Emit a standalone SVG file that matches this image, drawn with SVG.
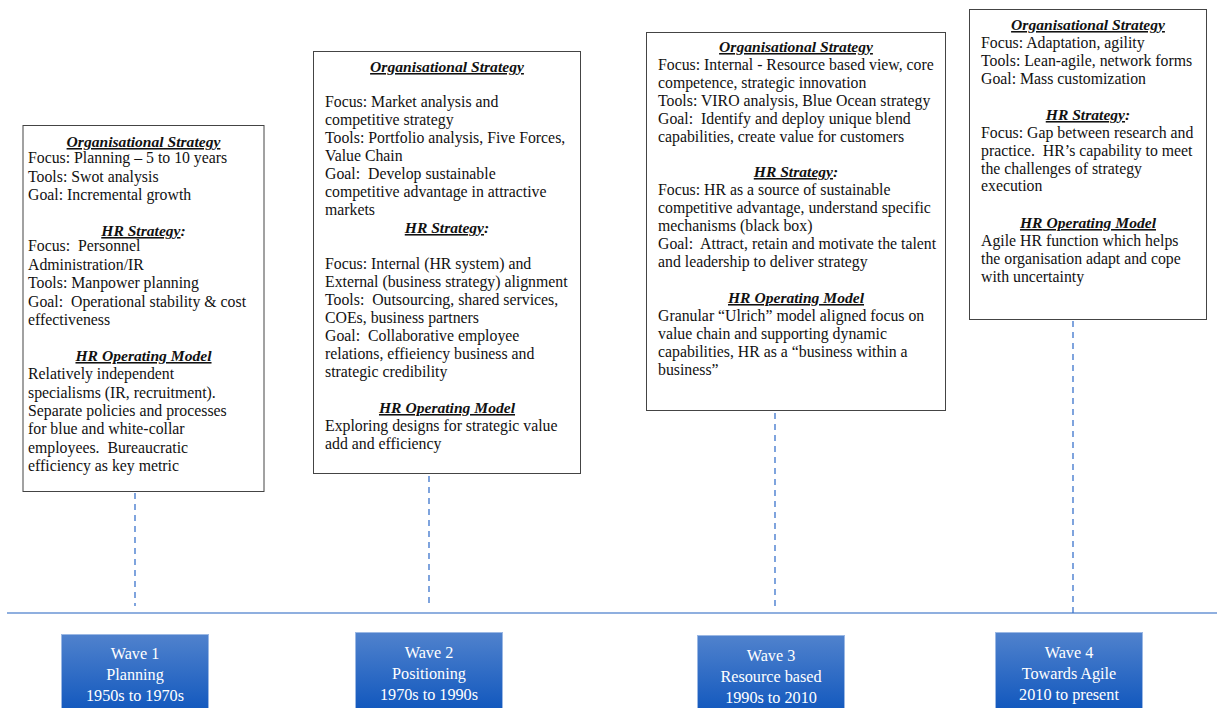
<svg xmlns="http://www.w3.org/2000/svg" width="1217" height="708" viewBox="0 0 1217 708">
<style>
.box{fill:#fff;stroke:#444;stroke-width:1}
.t{font-family:"Liberation Serif","Times New Roman",serif;font-size:15.8px;fill:#111;white-space:pre}
.h{font-family:"Liberation Serif","Times New Roman",serif;font-size:15.6px;font-weight:bold;font-style:italic;fill:#111;text-anchor:middle}
.u{text-decoration:underline}
.dash{stroke:#3b73cc;stroke-width:1.3;stroke-dasharray:6,5;fill:none}
.axis{stroke:#6a95d4;stroke-width:1.5}
.wave{fill:url(#g);stroke:#9bb8e4;stroke-width:1}
.w{font-family:"Liberation Serif","Times New Roman",serif;font-size:16.2px;fill:#fff;text-anchor:middle}
</style>
<defs>
<linearGradient id="g" x1="0" y1="0" x2="0" y2="1">
<stop offset="0" stop-color="#5082cd"/>
<stop offset="1" stop-color="#0f56bd"/>
</linearGradient>
</defs>
<rect width="1217" height="708" fill="#fff"/>
<g id="connectors">
<line class="axis" x1="7" y1="613" x2="1217" y2="613"/>
<line class="dash" x1="135" y1="493" x2="135" y2="606"/>
<line class="dash" x1="429" y1="476" x2="429" y2="607"/>
<line class="dash" x1="775" y1="413" x2="775" y2="610"/>
<line class="dash" x1="1073" y1="321" x2="1073" y2="618"/>
</g>
<g id="box1">
<rect class="box" x="23" y="125.500" width="241" height="366"/>
<text class="h" x="143.5" y="147"><tspan class="u">Organisational Strategy</tspan></text>
<text class="t" x="28" y="163">Focus: Planning – 5 to 10 years</text>
<text class="t" x="28" y="181.500">Tools: Swot analysis</text>
<text class="t" x="28" y="200">Goal: Incremental growth</text>
<text class="h" x="143.5" y="236"><tspan class="u">HR Strategy</tspan>:</text>
<text class="t" x="28" y="251">Focus:  Personnel</text>
<text class="t" x="28" y="269.500">Administration/IR</text>
<text class="t" x="28" y="288">Tools: Manpower planning</text>
<text class="t" x="28" y="306.500">Goal:  Operational stability &amp; cost</text>
<text class="t" x="28" y="325">effectiveness</text>
<text class="h" x="143.5" y="361"><tspan class="u">HR Operating Model</tspan></text>
<text class="t" x="28" y="379">Relatively independent</text>
<text class="t" x="28" y="397.500">specialisms (IR, recruitment).</text>
<text class="t" x="28" y="416">Separate policies and processes</text>
<text class="t" x="28" y="434">for blue and white-collar</text>
<text class="t" x="28" y="452.500">employees.  Bureaucratic</text>
<text class="t" x="28" y="470.500">efficiency as key metric</text>
</g>
<g id="box2">
<rect class="box" x="313.500" y="51.500" width="267" height="422"/>
<text class="h" x="447" y="72"><tspan class="u">Organisational Strategy</tspan></text>
<text class="t" x="325" y="107">Focus: Market analysis and</text>
<text class="t" x="325" y="125">competitive strategy</text>
<text class="t" x="325" y="143">Tools: Portfolio analysis, Five Forces,</text>
<text class="t" x="325" y="161">Value Chain</text>
<text class="t" x="325" y="179">Goal:  Develop sustainable</text>
<text class="t" x="325" y="197">competitive advantage in attractive</text>
<text class="t" x="325" y="215">markets</text>
<text class="h" x="447" y="233"><tspan class="u">HR Strategy</tspan>:</text>
<text class="t" x="325" y="269">Focus: Internal (HR system) and</text>
<text class="t" x="325" y="287">External (business strategy) alignment</text>
<text class="t" x="325" y="305">Tools:  Outsourcing, shared services,</text>
<text class="t" x="325" y="323">COEs, business partners</text>
<text class="t" x="325" y="341">Goal:  Collaborative employee</text>
<text class="t" x="325" y="359">relations, effieiency business and</text>
<text class="t" x="325" y="377">strategic credibility</text>
<text class="h" x="447" y="413"><tspan class="u">HR Operating Model</tspan></text>
<text class="t" x="325" y="431">Exploring designs for strategic value</text>
<text class="t" x="325" y="449">add and efficiency</text>
</g>
<g id="box3">
<rect class="box" x="646.500" y="32.500" width="299" height="378"/>
<text class="h" x="796" y="52"><tspan class="u">Organisational Strategy</tspan></text>
<text class="t" x="658" y="70">Focus: Internal - Resource based view, core</text>
<text class="t" x="658" y="88">competence, strategic innovation</text>
<text class="t" x="658" y="106">Tools: VIRO analysis, Blue Ocean strategy</text>
<text class="t" x="658" y="123.500">Goal:  Identify and deploy unique blend</text>
<text class="t" x="658" y="141.500">capabilities, create value for customers</text>
<text class="h" x="796" y="177"><tspan class="u">HR Strategy</tspan>:</text>
<text class="t" x="658" y="195">Focus: HR as a source of sustainable</text>
<text class="t" x="658" y="213">competitive advantage, understand specific</text>
<text class="t" x="658" y="231">mechanisms (black box)</text>
<text class="t" x="658" y="249">Goal:  Attract, retain and motivate the talent</text>
<text class="t" x="658" y="267">and leadership to deliver strategy</text>
<text class="h" x="796" y="303"><tspan class="u">HR Operating Model</tspan></text>
<text class="t" x="658" y="321">Granular “Ulrich” model aligned focus on</text>
<text class="t" x="658" y="339">value chain and supporting dynamic</text>
<text class="t" x="658" y="357">capabilities, HR as a “business within a</text>
<text class="t" x="658" y="375">business”</text>
</g>
<g id="box4">
<rect class="box" x="969.500" y="9.500" width="237" height="310"/>
<text class="h" x="1088" y="30"><tspan class="u">Organisational Strategy</tspan></text>
<text class="t" x="981" y="48">Focus: Adaptation, agility</text>
<text class="t" x="981" y="66">Tools: Lean-agile, network forms</text>
<text class="t" x="981" y="83.500">Goal: Mass customization</text>
<text class="h" x="1088" y="120"><tspan class="u">HR Strategy</tspan>:</text>
<text class="t" x="981" y="138">Focus: Gap between research and</text>
<text class="t" x="981" y="155.500">practice.  HR’s capability to meet</text>
<text class="t" x="981" y="173.500">the challenges of strategy</text>
<text class="t" x="981" y="191">execution</text>
<text class="h" x="1088" y="228"><tspan class="u">HR Operating Model</tspan></text>
<text class="t" x="981" y="246">Agile HR function which helps</text>
<text class="t" x="981" y="264">the organisation adapt and cope</text>
<text class="t" x="981" y="281.500">with uncertainty</text>
</g>
<g id="wave1">
<rect class="wave" x="61.500" y="634.500" width="147" height="80"/>
<text class="w" x="135" y="659">Wave 1</text>
<text class="w" x="135" y="680">Planning</text>
<text class="w" x="135" y="701">1950s to 1970s</text>
</g>
<g id="wave2">
<rect class="wave" x="355.500" y="632.500" width="147" height="80"/>
<text class="w" x="429" y="658">Wave 2</text>
<text class="w" x="429" y="679">Positioning</text>
<text class="w" x="429" y="700">1970s to 1990s</text>
</g>
<g id="wave3">
<rect class="wave" x="697.500" y="635.500" width="147" height="80"/>
<text class="w" x="771" y="661">Wave 3</text>
<text class="w" x="771" y="682">Resource based</text>
<text class="w" x="771" y="703">1990s to 2010</text>
</g>
<g id="wave4">
<rect class="wave" x="995.500" y="632.500" width="147" height="80"/>
<text class="w" x="1069" y="658">Wave 4</text>
<text class="w" x="1069" y="679">Towards Agile</text>
<text class="w" x="1069" y="700">2010 to present</text>
</g>
</svg>
